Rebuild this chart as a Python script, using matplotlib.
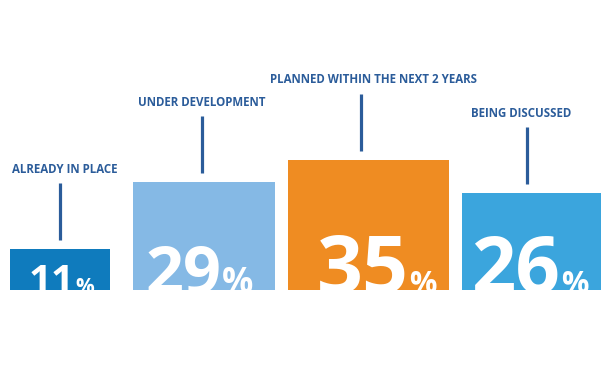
import matplotlib
matplotlib.use('Agg')
import matplotlib.pyplot as plt

# Data
categories = ['ALREADY IN PLACE', 'UNDER DEVELOPMENT', 'PLANNED WITHIN THE NEXT 2 YEARS', 'BEING DISCUSSED']
values = [11, 29, 35, 26]

# ---- Layout / style ----
colors = ['#0F7BBD', '#85B9E5', '#EF8C22', '#3BA5DD']
lefts = [10, 133, 288, 462]
widths = [100, 142, 161, 139]
line_x = [60, 202, 361, 527]
label_x = [65, 202, 373, 521]
num_shift = [1, -5, 8, -2]      # nudge of the big numbers (px)
num_size = [29, 48, 58, 56]
pct_size = [15, 25, 22, 22]
text_col = '#2B5C9A'
PX = 3.72   # pixels per percent point

plt.rcParams['font.family'] = ['Open Sans', 'DejaVu Sans']

fig = plt.figure(figsize=(6.08, 3.8), dpi=100)
ax = fig.add_axes([0, 90/380, 1, 290/380])
ax.set_xlim(0, 608)
ax.set_ylim(0, 290/PX)
ax.axis('off')

ax.bar(lefts, values, width=widths, align='edge', color=colors, linewidth=0)

nums = []
pcts = []
for i in range(len(values)):
    v = values[i]
    ax.plot([line_x[i], line_x[i]], [v + 9/PX, v + 66/PX], color=text_col, linewidth=2.3,
            solid_capstyle='butt')
    ax.text(label_x[i], v + 80/PX, categories[i], ha='center', va='center', color=text_col,
            fontsize=8.3, fontweight='bold')
    t = ax.text(0, -3/PX, str(v), ha='left', va='baseline', color='white',
                fontsize=num_size[i], fontweight='bold', clip_on=True)
    p = ax.text(0, -3/PX, '%', ha='left', va='baseline', color='white',
                fontsize=pct_size[i], fontweight='bold', clip_on=True)
    nums.append(t)
    pcts.append(p)

# centre number + % sign inside each bar
fig.canvas.draw()
r = fig.canvas.get_renderer()
for i in range(len(values)):
    wn = nums[i].get_window_extent(r).width
    wp = pcts[i].get_window_extent(r).width
    cx = lefts[i] + widths[i] / 2 + num_shift[i]
    x0 = cx - (wn + wp) / 2
    nums[i].set_x(x0)
    pcts[i].set_x(x0 + wn + 0.5)

fig.savefig('out.png', dpi=100)
